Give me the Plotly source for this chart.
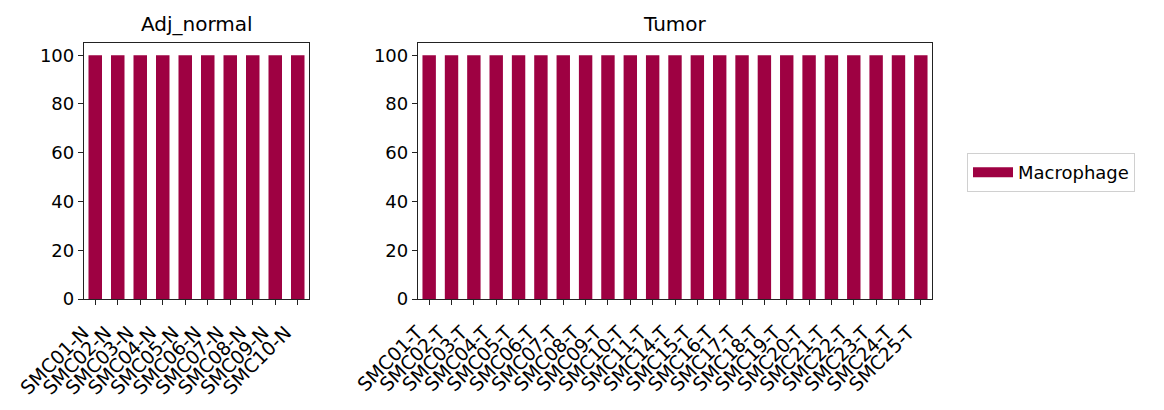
import plotly.graph_objects as go

# Data
normal_samples = ['SMC01-N', 'SMC02-N', 'SMC03-N', 'SMC04-N', 'SMC05-N',
                  'SMC06-N', 'SMC07-N', 'SMC08-N', 'SMC09-N', 'SMC10-N']
normal_macrophage = [100, 100, 100, 100, 100, 100, 100, 100, 100, 100]

tumor_samples = ['SMC01-T', 'SMC02-T', 'SMC03-T', 'SMC04-T', 'SMC05-T', 'SMC06-T',
                 'SMC07-T', 'SMC08-T', 'SMC09-T', 'SMC10-T', 'SMC11-T', 'SMC14-T',
                 'SMC15-T', 'SMC16-T', 'SMC17-T', 'SMC18-T', 'SMC19-T', 'SMC20-T',
                 'SMC21-T', 'SMC22-T', 'SMC23-T', 'SMC24-T', 'SMC25-T']
tumor_macrophage = [100, 100, 100, 100, 100, 100, 100, 100, 100, 100, 100, 100,
                    100, 100, 100, 100, 100, 100, 100, 100, 100, 100, 100]

y_ticks = [0, 20, 40, 60, 80, 100]
color = '#9E0142'
font = 'DejaVu Sans'

W, H = 1164, 410
OFF = 8  # page body margin
# axes boxes in pixels of the final picture
left_px = (84, 309)
right_px = (418, 932)
top_px, bottom_px = 43, 299

def dom(px):
    return [(px[0] - OFF) / W, (px[1] - OFF) / W]

ydom = [(H - bottom_px + OFF) / H, (H - top_px + OFF) / H]

fig = go.Figure()
fig.add_trace(go.Bar(x=normal_samples, y=normal_macrophage, name='Macrophage',
                     marker=dict(color=color, line=dict(width=0)), width=0.6,
                     xaxis='x', yaxis='y', showlegend=False))
fig.add_trace(go.Bar(x=tumor_samples, y=tumor_macrophage, name='Macrophage',
                     marker=dict(color=color, line=dict(width=0)), width=0.6,
                     xaxis='x2', yaxis='y2', showlegend=False))
# legend entry drawn as a wide patch
fig.add_trace(go.Scatter(x=[None], y=[None], mode='lines', name='Macrophage',
                         line=dict(color=color, width=13), xaxis='x2', yaxis='y2'))

axis_common = dict(showline=True, linecolor='#222', linewidth=1.3, mirror=True,
                   ticks='outside', ticklen=5, tickwidth=1.2, tickcolor='#222',
                   showgrid=False, zeroline=False, automargin=False)
yaxis_extra = dict(tickfont=dict(family=font, size=18, color='black'))
xaxis_extra = dict(tickangle=-45, tickmode='array', ticklabelshift=-12, ticklabelstandoff=9,
                   tickfont=dict(family=font, size=19, color='black'))

fig.update_layout(
    width=W, height=H,
    margin=dict(l=0, r=0, t=0, b=0),
    paper_bgcolor='white', plot_bgcolor='white',
    font=dict(family=font, color='black'),
    xaxis=dict(domain=dom(left_px), anchor='y', tickvals=normal_samples,
               range=[-0.5, len(normal_samples) - 0.5], **xaxis_extra, **axis_common),
    yaxis=dict(domain=ydom, anchor='x', range=[0, 105], tickvals=y_ticks,
               **yaxis_extra, **axis_common),
    xaxis2=dict(domain=dom(right_px), anchor='y2', tickvals=tumor_samples,
                range=[-0.5, len(tumor_samples) - 0.5], **xaxis_extra, **axis_common),
    yaxis2=dict(domain=ydom, anchor='x2', range=[0, 105], tickvals=y_ticks,
                **yaxis_extra, **axis_common),
    legend=dict(x=(967 - OFF) / W, y=(H - 153 + OFF) / H, xanchor='left', yanchor='top',
                bordercolor='#d0d0d0', borderwidth=1, bgcolor='white',
                itemwidth=40, font=dict(family=font, size=18)),
)

# subplot titles
for title, px in [('Adj_normal', left_px), ('Tumor', right_px)]:
    fig.add_annotation(text=title, x=((px[0] + px[1]) / 2 - OFF) / W, y=ydom[1] + 5 / H,
                       xref='paper', yref='paper', xanchor='center', yanchor='bottom',
                       showarrow=False, font=dict(family=font, size=20, color='black'))

fig.write_html('out.html')
